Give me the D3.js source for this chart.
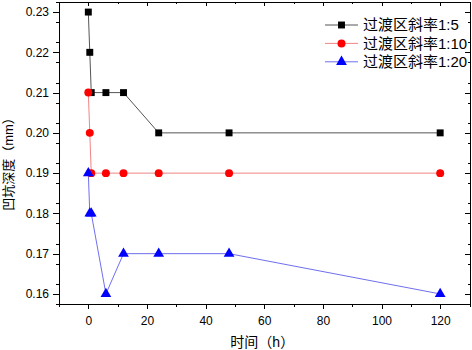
<!DOCTYPE html>
<html>
<head>
<meta charset="utf-8">
<script src="https://cdn.jsdelivr.net/npm/d3@7"></script>
<style>
  body { margin: 0; background: #fff; }
  svg { display: block; font-family: "Liberation Sans", Arial, "Noto Sans CJK SC", sans-serif; }
  .axis path, .axis line { stroke: #000; stroke-width: 1; shape-rendering: crispEdges; }
  .axis text { font-size: 12px; fill: #000; }
</style>
</head>
<body>
<div id="chart"></div>
<script>
// time (h)
const times = [0, 0.5, 1, 6, 12, 24, 48, 120];
// pit depth (mm)
const slope5 = [0.23, 0.22, 0.21, 0.21, 0.21, 0.20, 0.20, 0.20];
const slope10 = [0.21, 0.20, 0.19, 0.19, 0.19, 0.19, 0.19, 0.19];
const slope20 = [0.19, 0.18, 0.18, 0.16, 0.17, 0.17, 0.17, 0.16];

const seriesNames = ['过渡区斜率1:5', '过渡区斜率1:10', '过渡区斜率1:20'];
const xTicks = [0, 20, 40, 60, 80, 100, 120];
const yTicks = [0.16, 0.17, 0.18, 0.19, 0.20, 0.21, 0.22, 0.23];
const xLabel = '时间（h）';
const yLabel = '凹坑深度（mm）';

const config = {
  width: 472, height: 350,
  margin: {top: 2, right: 2.5, bottom: 46, left: 59}
};

const series = [
  {name: seriesNames[0], values: slope5, line: '#555555', fill: '#000000', shape: d3.symbolSquare, size: 48},
  {name: seriesNames[1], values: slope10, line: '#f08585', fill: '#ff0000', shape: d3.symbolCircle, size: 50},
  {name: seriesNames[2], values: slope20, line: '#6f6ff0', fill: '#0000ff', shape: d3.symbolTriangle, size: 50}
];

const innerW = config.width - config.margin.left - config.margin.right;
const innerH = config.height - config.margin.top - config.margin.bottom;

const svg = d3.select('#chart').append('svg')
    .attr('width', config.width)
    .attr('height', config.height);

const g = svg.append('g')
    .attr('transform', `translate(${config.margin.left},${config.margin.top})`);

const x = d3.scaleLinear().domain([-10, 130]).range([0, innerW]);
const y = d3.scaleLinear().domain([0.1575, 0.2325]).range([innerH, 0]);

const xMinor = d3.range(-10, 131, 10).filter(v => !xTicks.includes(v));
const yMinor = d3.range(0.1575, 0.2326, 0.005).map(v => +v.toFixed(4)).filter(v => !yTicks.some(t => Math.abs(t - v) < 1e-6));

// major axes, ticks out
g.append('g').attr('class', 'axis')
    .attr('transform', `translate(0,${innerH})`)
    .call(d3.axisBottom(x).tickValues(xTicks).tickSize(5).tickPadding(7).tickSizeOuter(0));
g.append('g').attr('class', 'axis')
    .call(d3.axisLeft(y).tickValues(yTicks).tickFormat(d3.format('.2f')).tickSize(6).tickPadding(4).tickSizeOuter(0));

// minor ticks
g.append('g').attr('class', 'axis')
    .attr('transform', `translate(0,${innerH})`)
    .call(d3.axisBottom(x).tickValues(xMinor).tickSize(3).tickFormat('').tickSizeOuter(0));
g.append('g').attr('class', 'axis')
    .call(d3.axisLeft(y).tickValues(yMinor).tickSize(3).tickFormat('').tickSizeOuter(0));

// mirror axes, ticks in
g.append('g').attr('class', 'axis')
    .call(d3.axisBottom(x).tickValues(xTicks).tickSize(4).tickFormat('').tickSizeOuter(0));
g.append('g').attr('class', 'axis')
    .call(d3.axisBottom(x).tickValues(xMinor).tickSize(2).tickFormat('').tickSizeOuter(0));
g.append('g').attr('class', 'axis')
    .attr('transform', `translate(${innerW},0)`)
    .call(d3.axisLeft(y).tickValues(yTicks).tickSize(5).tickFormat('').tickSizeOuter(0));
g.append('g').attr('class', 'axis')
    .attr('transform', `translate(${innerW},0)`)
    .call(d3.axisLeft(y).tickValues(yMinor).tickSize(2).tickFormat('').tickSizeOuter(0));

const line = d3.line()
    .x((d, i) => x(times[i]))
    .y(d => y(d));

series.forEach(s => {
  g.append('path')
      .datum(s.values)
      .attr('fill', 'none')
      .attr('stroke', s.line)
      .attr('stroke-width', 1)
      .attr('d', line);
});

series.forEach(s => {
  g.selectAll(null)
      .data(s.values)
    .join('path')
      .attr('transform', (d, i) => `translate(${x(times[i])},${y(d)})`)
      .attr('d', d3.symbol().type(s.shape).size(s.size))
      .attr('fill', s.fill);
});

// legend
const legend = svg.append('g')
    .attr('transform', 'translate(325,25)');

const rows = legend.selectAll('g')
    .data(series)
  .join('g')
    .attr('transform', (d, i) => `translate(0,${i * 18.4})`);

rows.append('line')
    .attr('x1', 0).attr('x2', 33)
    .attr('stroke', d => d.line)
    .attr('stroke-width', 1);

rows.append('path')
    .attr('transform', 'translate(16.5,0)')
    .attr('d', d => d3.symbol().type(d.shape).size(d.size)())
    .attr('fill', d => d.fill);

rows.append('text')
    .attr('x', 38)
    .attr('dy', '0.36em')
    .style('font-size', '15px')
    .text(d => d.name);

// axis titles
svg.append('text')
    .attr('x', config.margin.left + innerW / 2 - 2)
    .attr('y', 347)
    .attr('text-anchor', 'middle')
    .style('font-size', '14px')
    .text(xLabel);

svg.append('text')
    .attr('transform', 'translate(13,161) rotate(-90)')
    .attr('text-anchor', 'middle')
    .style('font-size', '13px')
    .text(yLabel);
</script>
</body>
</html>
